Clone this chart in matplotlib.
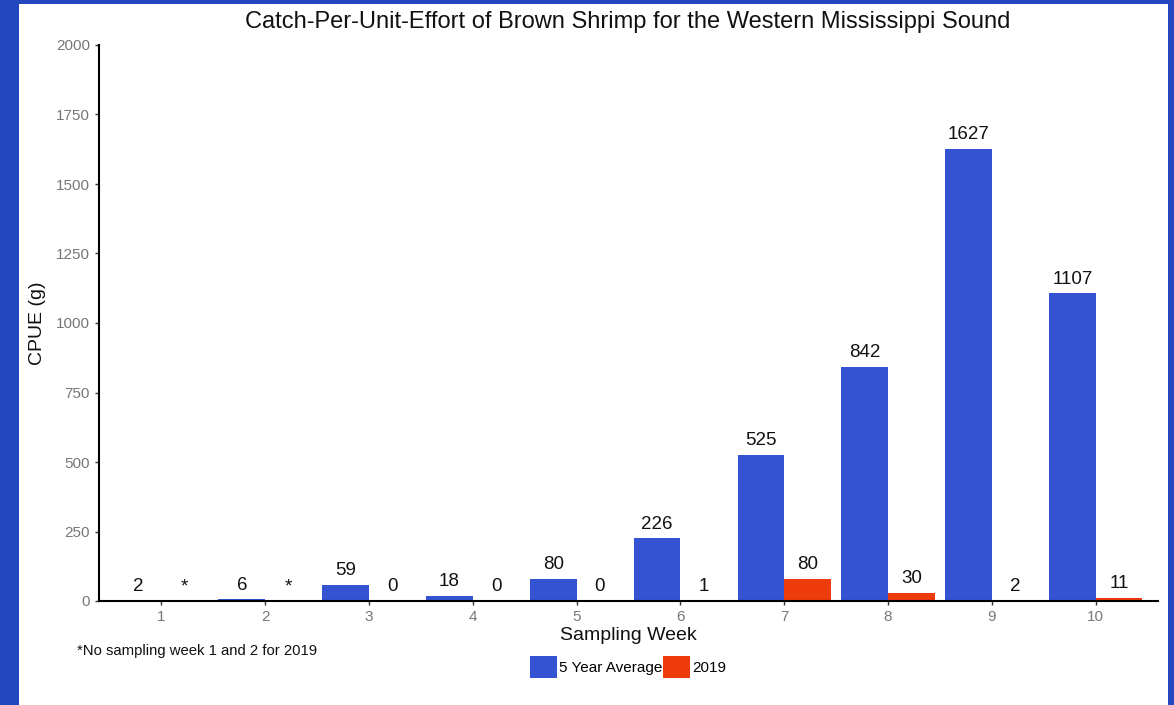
import matplotlib
matplotlib.use("Agg")
import matplotlib.pyplot as plt
from matplotlib.patches import Rectangle, Patch
import numpy as np

plt.rcParams['font.family'] = ['Liberation Sans', 'DejaVu Sans']

weeks = [1, 2, 3, 4, 5, 6, 7, 8, 9, 10]
avg5 = [2, 6, 59, 18, 80, 226, 525, 842, 1627, 1107]
y2019 = [None, None, 0, 0, 0, 1, 80, 30, 2, 11]
yticks = [0, 250, 500, 750, 1000, 1250, 1500, 1750, 2000]

blue = "#3453D2"
red = "#EE3B0C"
W, H = 1174, 705

fig = plt.figure(figsize=(W / 100, H / 100), dpi=100)
fig.patch.set_facecolor("#2347BE")
fig.patches.append(Rectangle((19 / W, 0), (1168 - 19) / W, (H - 4) / H,
                             transform=fig.transFigure, facecolor="white",
                             edgecolor="none", zorder=-10))

ax = fig.add_axes([99 / W, 1 - 601 / H, (1158 - 99) / W, (601 - 45) / H])
ax.set_zorder(5)
ax.set_facecolor("none")

x = np.array(weeks, dtype=float)
bw = 0.45
v19 = [0 if v is None else v for v in y2019]
ax.bar(x - bw / 2, avg5, width=bw, color=blue, zorder=2)
ax.bar(x + bw / 2, v19, width=bw, color=red, zorder=2)

for xi, v in zip(x, avg5):
    ax.annotate(str(v), (xi - bw / 2, v), xytext=(0, 4), textcoords="offset points",
                ha="center", va="bottom", fontsize=13.5, color="#111111")
for xi, v in zip(x, y2019):
    lab = "*" if v is None else str(v)
    vv = 0 if v is None else v
    ax.annotate(lab, (xi + bw / 2, vv), xytext=(0, 4), textcoords="offset points",
                ha="center", va="bottom", fontsize=13.5, color="#111111")

ax.set_xlim(0.4, 10.6)
ax.set_ylim(0, 2000)
ax.set_xticks(weeks)
ax.set_xticklabels([str(w) for w in weeks])
ax.set_yticks(yticks)
ax.set_yticklabels([str(t) for t in yticks])
for s in ["top", "right"]:
    ax.spines[s].set_visible(False)
for s in ["left", "bottom"]:
    ax.spines[s].set_color("black")
    ax.spines[s].set_linewidth(1.5)
ax.tick_params(axis="both", direction="out", length=3, width=1, color="#333333",
               labelsize=11, labelcolor="#777777")

fig.text(628 / W, 1 - 22 / H, "Catch-Per-Unit-Effort of Brown Shrimp for the Western Mississippi Sound",
         ha="center", va="center", fontsize=17, color="#111111")
fig.text(38 / W, 1 - 323 / H, "CPUE (g)", ha="center", va="center", rotation=90,
         fontsize=14, color="#111111")
fig.text(628 / W, 1 - 636 / H, "Sampling Week", ha="center", va="center",
         fontsize=14, color="#111111")
fig.text(77 / W, 1 - 651 / H, "*No sampling week 1 and 2 for 2019", ha="left", va="center",
         fontsize=10.7, color="#111111")

handles = [Patch(facecolor=blue, edgecolor="none"), Patch(facecolor=red, edgecolor="none")]
fig.legend(handles, ["5 Year Average", "2019"], loc="center", bbox_to_anchor=(628 / W, 1 - 667 / H),
           ncol=2, frameon=False, fontsize=11, handlelength=1.77, handleheight=1.85,
           handletextpad=0.1, columnspacing=0.1, borderpad=0)

fig.savefig("out.png", dpi=100, facecolor=fig.get_facecolor())
